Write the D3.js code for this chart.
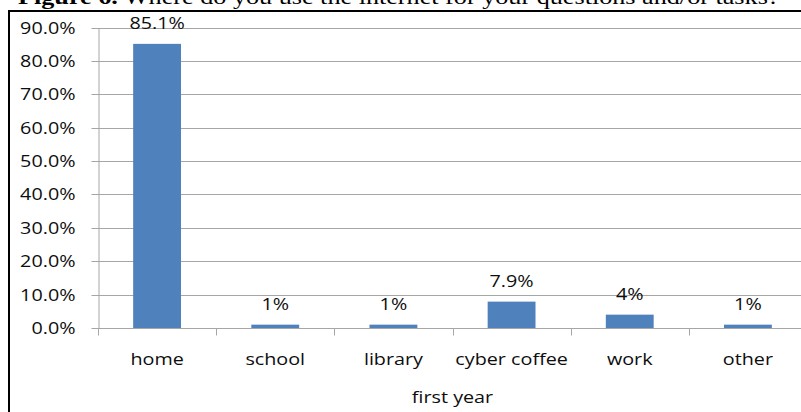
<!DOCTYPE html>
<html>
<head>
<meta charset="utf-8">
<script src="https://cdn.jsdelivr.net/npm/d3@7"></script>
<style>
  html, body { margin: 0; padding: 0; background: #fff; overflow: hidden; }
  svg { display: block; }
  .lbl { font-family: "Open Sans", sans-serif; font-size: 16.6px; fill: #0d0d0d; }
</style>
</head>
<body>
<svg id="chart" width="801" height="412"></svg>
<script>
// Where students use the internet, first year
const categories = ["home", "school", "library", "cyber coffee", "work", "other"];
const values = [85.1, 1, 1, 7.9, 4, 1];
const valueLabels = ["85.1%", "1%", "1%", "7.9%", "4%", "1%"];
const yTicks = [0, 10, 20, 30, 40, 50, 60, 70, 80, 90];
const axisTitle = "first year";
const captionBold = "Figure 6.";
const captionRest = " Where do you use the internet for your questions and/or tasks?";

const svg = d3.select("#chart");
const stretch = 1.19;

const plot = { left: 98, right: 807, top: 27.5, bottom: 328 };

const x = d3.scaleBand().domain(categories).range([plot.left, plot.right]).paddingInner(0).paddingOuter(0);
const y = d3.scaleLinear().domain([0, 90]).range([plot.bottom, plot.top]);
const barW = x.bandwidth() * 0.405;

// caption above the frame (runs past the top edge of the page)
svg.append("g")
  .attr("transform", `translate(18,4) scale(${stretch},1)`)
  .append("text")
  .style("font-family", "'Liberation Serif', serif")
  .style("font-size", "22px")
  .call(t => {
    t.append("tspan").style("font-weight", "bold").text(captionBold);
    t.append("tspan").text(captionRest);
  });

// chart frame
svg.append("path")
  .attr("d", "M9,412 L9,11 L801,11")
  .attr("fill", "none").attr("stroke", "#000").attr("stroke-width", 2);

// horizontal gridlines
svg.append("g").selectAll("line").data(yTicks.filter(d => d > 0)).join("line")
  .attr("x1", plot.left).attr("x2", plot.right)
  .attr("y1", d => Math.round(y(d)) + 0.5).attr("y2", d => Math.round(y(d)) + 0.5)
  .attr("stroke", "#a6a6a6").attr("stroke-width", 1);

// y axis
const yAxis = svg.append("g")
  .attr("transform", `translate(${plot.left + 0.5},0)`)
  .call(d3.axisLeft(y).tickValues(yTicks).tickSize(7).tickSizeOuter(0).tickFormat(d => d.toFixed(1) + "%"));
yAxis.select(".domain").attr("stroke", "#a6a6a6");
yAxis.selectAll(".tick line").attr("stroke", "#a6a6a6");
yAxis.selectAll(".tick").attr("transform", d => `translate(0,${Math.round(y(d)) + 0.5})`);
yAxis.selectAll(".tick text")
  .attr("class", "lbl")
  .attr("x", null).attr("dy", "0.36em")
  .attr("transform", `translate(-23,0) scale(${stretch},1)`)
  .attr("fill", "#0d0d0d")
  .style("font-family", "'Open Sans', sans-serif").style("font-size", "16.6px");

// bars
svg.append("g").selectAll("rect").data(values).join("rect")
  .attr("x", (d, i) => x(categories[i]) + (x.bandwidth() - barW) / 2)
  .attr("width", barW)
  .attr("y", d => y(d))
  .attr("height", d => y(0) - y(d))
  .attr("fill", "#4f81bd");

// x axis
const xAxis = svg.append("g")
  .attr("transform", `translate(0,${Math.round(y(0)) + 0.5})`);
xAxis.append("line")
  .attr("x1", plot.left).attr("x2", plot.right)
  .attr("stroke", "#a6a6a6");
const bounds = categories.map(c => x(c));
xAxis.selectAll("line.tk").data(bounds).join("line").attr("class", "tk")
  .attr("x1", d => Math.round(d) + 0.5).attr("x2", d => Math.round(d) + 0.5)
  .attr("y1", 0).attr("y2", 7)
  .attr("stroke", "#a6a6a6");
xAxis.selectAll("g.cat").data(categories).join("g").attr("class", "cat")
  .attr("transform", d => `translate(${x(d) + x.bandwidth() / 2},36.5) scale(${stretch},1)`)
  .append("text").attr("class", "lbl").attr("text-anchor", "middle").text(d => d);

// value labels
svg.append("g").selectAll("g").data(values).join("g")
  .attr("transform", (d, i) => `translate(${x(categories[i]) + x.bandwidth() / 2},${y(d) - 15}) scale(${stretch},1)`)
  .append("text").attr("class", "lbl").attr("text-anchor", "middle")
  .text((d, i) => valueLabels[i]);

// axis title
svg.append("g")
  .attr("transform", `translate(${(plot.left + plot.right) / 2},403) scale(${stretch},1)`)
  .append("text").attr("class", "lbl").attr("text-anchor", "middle").text(axisTitle);
</script>
</body>
</html>
